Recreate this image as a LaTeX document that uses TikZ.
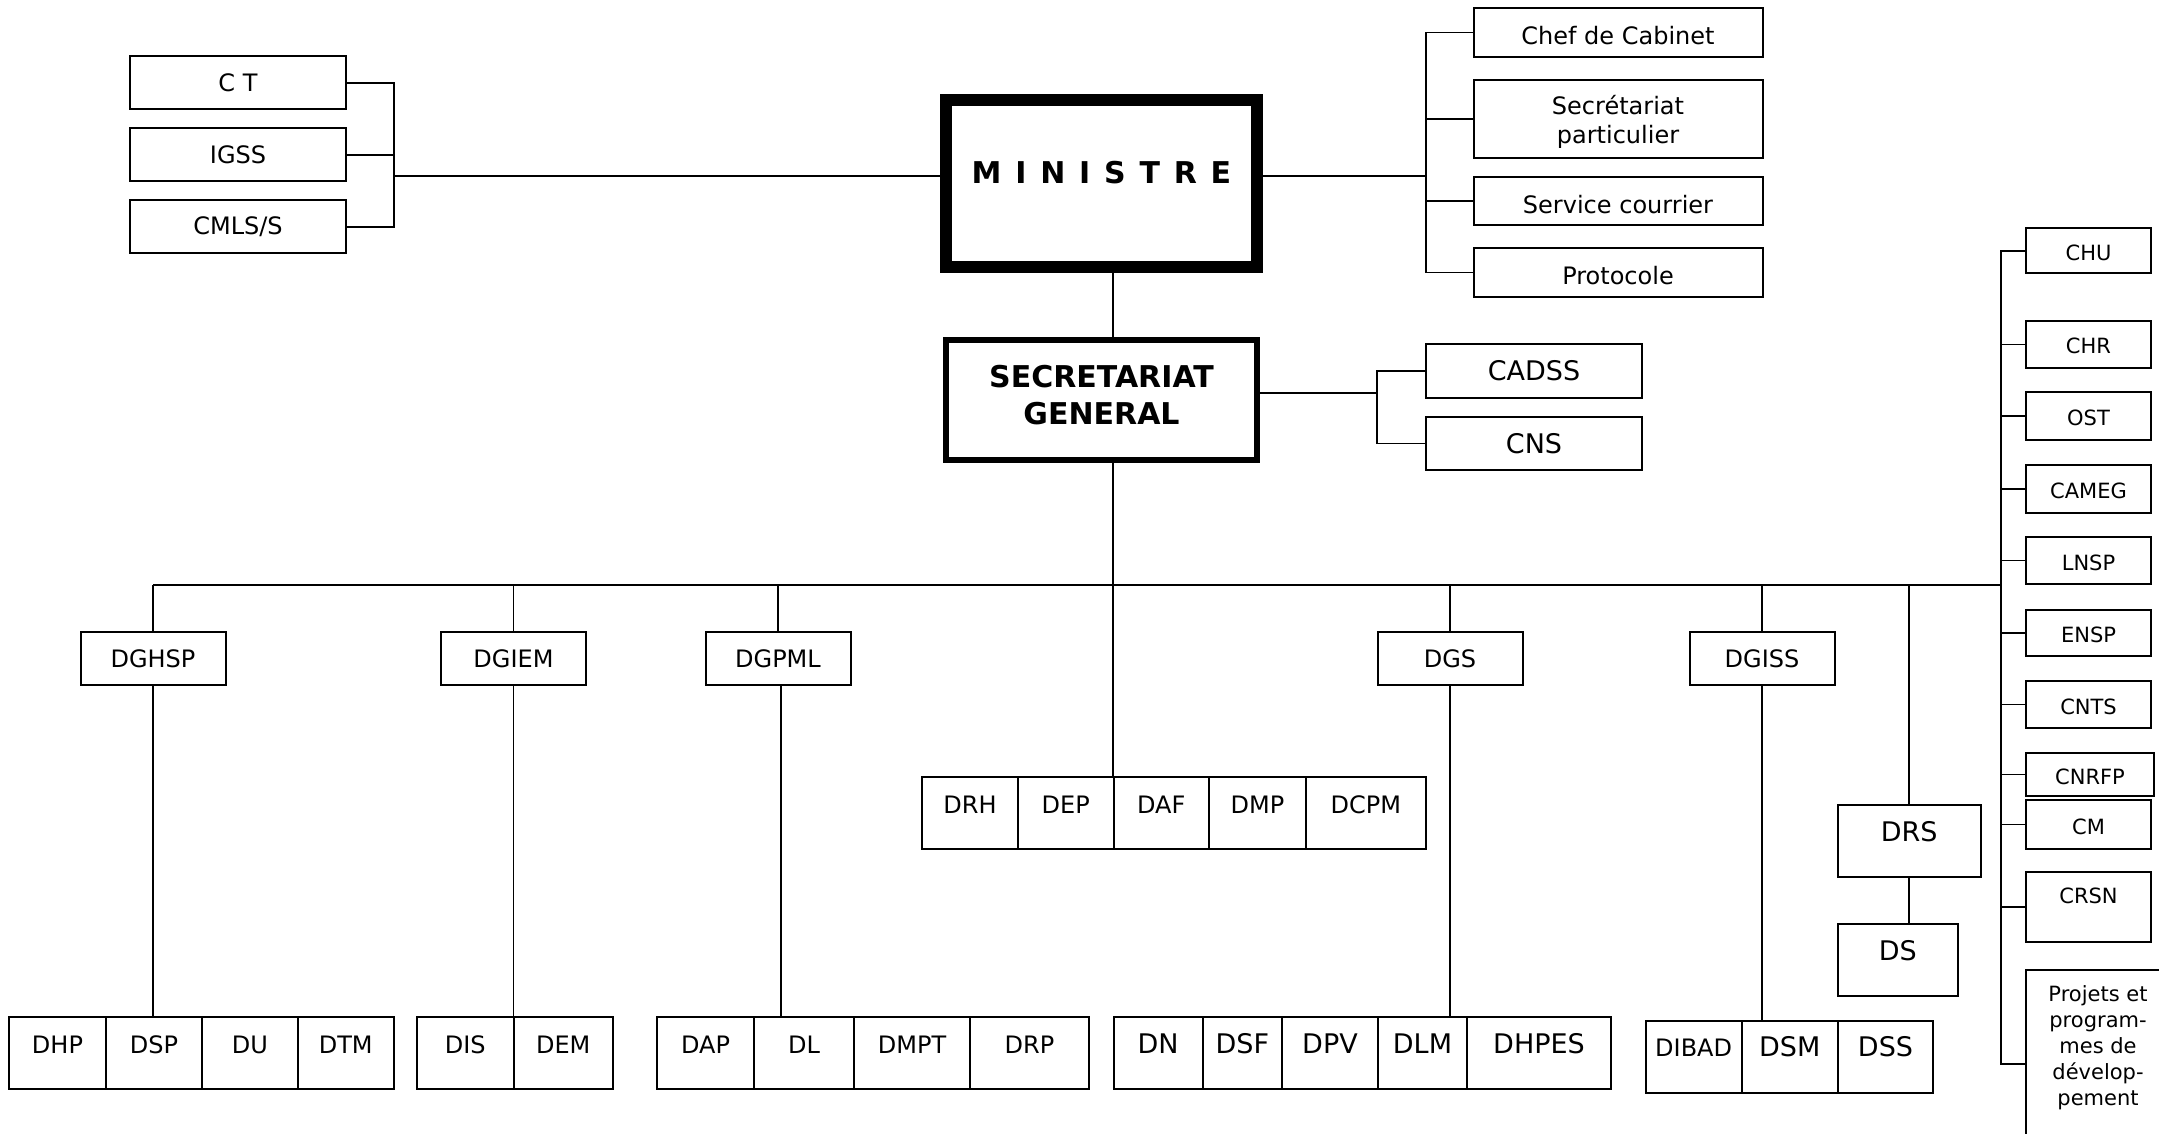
\documentclass[tikz,border=0pt]{standalone}
\usepackage{fontspec}
\setmainfont{DejaVu Sans}
\begin{document}
\begin{tikzpicture}[x=0.5pt,y=-0.5pt,
	box/.style={draw, line width=1pt, inner sep=0pt, align=center, font=\fontsize{12}{14.5}\selectfont},
	lowtext/.style={text height=12.5pt, text depth=0pt},
	cell/.style={box, minimum height=36pt, text height=8pt, text depth=8pt},
	side/.style={box, minimum width=62.5pt, text height=9.5pt, text depth=0pt, font=\fontsize{10.5}{13}\selectfont},
	big/.style={font=\fontsize{13.5}{16}\selectfont},
	link/.style={line width=0.9pt}]

	\clip (0,0) rectangle (2159,1134);

	% sommet
	\node[box, line width=6pt, minimum width=155.5pt, minimum height=83.5pt, text height=11pt, text depth=11pt,
		font=\fontsize{15}{18}\selectfont\bfseries] (min) at (1101.5,183.5) {\spaceskip=6.9pt M I N I S T R E};
	\node[box, line width=2.75pt, minimum width=155.5pt, minimum height=60pt, text depth=5.5pt,
		font=\fontsize{15}{18.5}\selectfont\bfseries] (sg) at (1101.5,400) {SECRETARIAT\\GENERAL};

	\coordinate (lbr) at (394,176);
	\coordinate (rbr) at (1426,176);
	\coordinate (sbr) at (1377,393);
	\coordinate (spine) at (1113,585);
	\coordinate (vbr) at (2001,250);
	\coordinate (ppk) at (2026,1064);

	% rattachés au ministre
	\node[box, minimum width=108pt, minimum height=26.5pt] (ct) at (238,83) {C T};
	\node[box, minimum width=108pt, minimum height=26.5pt] (igss) at (238,155) {IGSS};
	\node[box, minimum width=108pt, minimum height=26.5pt] (cmls) at (238,227) {CMLS/S};

	\node[box, lowtext, minimum width=144.5pt, minimum height=24.5pt] (chef) at (1618,32.5) {Chef de Cabinet};
	\node[box, minimum width=144.5pt, minimum height=39pt, text depth=-1.2pt] (secp) at (1618,119) {Secrétariat\\particulier};
	\node[box, lowtext, minimum width=144.5pt, minimum height=24pt] (cour) at (1618,201) {Service courrier};
	\node[box, lowtext, minimum width=144.5pt, minimum height=24.5pt] (prot) at (1618,272.5) {Protocole};

	\draw[link] (ct.east) -| (lbr) |- (cmls.east);
	\draw[link] (igss.east) -- (igss.east -| lbr);
	\draw[link] (lbr) -- (lbr -| min.west);

	\draw[link] (min.east |- rbr) -- (rbr);
	\draw[link] (chef.west) -| (rbr) |- (prot.west);
	\draw[link] (secp.west) -- (secp.west -| rbr);
	\draw[link] (cour.west) -- (cour.west -| rbr);

	\draw[link] (min.south -| spine) -- (sg.north -| spine);

	% rattachés au SG
	\node[box, big, minimum width=108pt, minimum height=27pt] (cadss) at (1534,371) {CADSS};
	\node[box, big, minimum width=108pt, minimum height=26.5pt] (cns) at (1534,443.5) {CNS};
	\draw[link] (sg.east |- sbr) -- (sbr);
	\draw[link] (cadss.west) -| (sbr) |- (cns.west);

	% directions generales
	\foreach \n/\x in {DGHSP/153, DGIEM/513.5, DGPML/778, DGS/1450, DGISS/1762}
		\node[box, minimum width=72.5pt, minimum height=26.5pt] (\n) at (\x,658.5) {\n};

	% directions
	\foreach \a/\b/\t in {9/106/DHP, 106/202/DSP, 202/298/DU, 298/393.5/DTM, 417/513.5/DIS, 513.5/613/DEM,
		657/754/DAP, 754/854/DL, 854/970/DMPT, 970/1089/DRP}
		\node[cell, minimum width={(\b-\a)*0.5pt}] (\t) at ({(\a+\b)/2},1053) {\t};
	\foreach \a/\b/\t in {1113.5/1202.7/DN, 1202.7/1282/DSF, 1282/1378/DPV, 1378/1467/DLM, 1467/1611/DHPES}
		\node[cell, big, minimum width={(\b-\a)*0.5pt}] (\t) at ({(\a+\b)/2},1053) {\t};
	\node[cell, minimum width=47.95pt] (DIBAD) at (1693.65,1056.5) {DIBAD};
	\foreach \a/\b/\t in {1741.6/1838/DSM, 1838/1933/DSS}
		\node[cell, big, minimum width={(\b-\a)*0.5pt}] (\t) at ({(\a+\b)/2},1056.5) {\t};
	\foreach \a/\b/\t in {922/1018/DRH, 1018/1113.5/DEP, 1113.5/1209/DAF, 1209/1306/DMP, 1306/1425.5/DCPM}
		\node[cell, minimum width={(\b-\a)*0.5pt}] (\t) at ({(\a+\b)/2},813) {\t};

	\node[cell, big, minimum width=71.75pt] (DRS) at (1909.25,841) {DRS};
	\node[cell, big, minimum width=60.25pt] (DS) at (1897.75,960) {DS};

	% liaisons
	\draw[link] (DGHSP.north |- spine) -- (spine -| vbr);
	\draw[link] (sg.south -| spine) -- (spine |- DAF.north);
	\foreach \n in {DGHSP, DGIEM, DGPML, DGS, DGISS}
		\draw[link] (\n.north) -- (\n.north |- spine);
	\draw[link] (DGHSP.south) -- (DGHSP.south |- DSP.north);
	\draw[link] (DGIEM.south) -- (DGIEM.south |- DIS.north);
	\draw[link] ([xshift=1.5pt]DGPML.south) -- ([xshift=1.5pt]DGPML.south |- DL.north);
	\draw[link] (DGS.south) -- (DGS.south |- DLM.north);
	\draw[link] (DGISS.south) -- (DGISS.south |- DSM.north);
	\draw[link] (DRS.north) -- (DRS.north |- spine);
	\draw[link] (DRS.south) -- (DRS.south |- DS.north);

	% structures rattachees
	\foreach \n/\y/\h in {CHU/251/22.5, CHR/344.5/23.5, OST/416/24, CAMEG/489/24, LNSP/560.5/23.5,
		ENSP/633/23, CNTS/704.5/23.5, CM/824.5/24.5}
		\node[side, minimum height=\h pt] (\n) at (2088.5,\y) {\n};
	\node[side, minimum width=64pt, minimum height=21.5pt] (CNRFP) at (2090,774.5) {CNRFP};
	\node[side, minimum height=35pt, text height=7pt, text depth=10.5pt] (CRSN) at (2088.5,907) {CRSN};
	\node[align=center, anchor=north, inner sep=0pt, font=\fontsize{10.5}{13}\selectfont] (proj) at (2098,985)
		{Projets et\\program-\\mes de\\dévelop-\\pement};
	\draw[line width=1pt] (2026,1150) |- (2180,970);

	\draw[link] (CHU.west) -- (CHU.west -| vbr) -- (vbr |- ppk) -- (ppk);
	\foreach \n in {CHR, OST, CAMEG, LNSP, ENSP, CNTS, CNRFP, CM, CRSN}
		\draw[link] (\n.west) -- (\n.west -| vbr);

\end{tikzpicture}
\end{document}
